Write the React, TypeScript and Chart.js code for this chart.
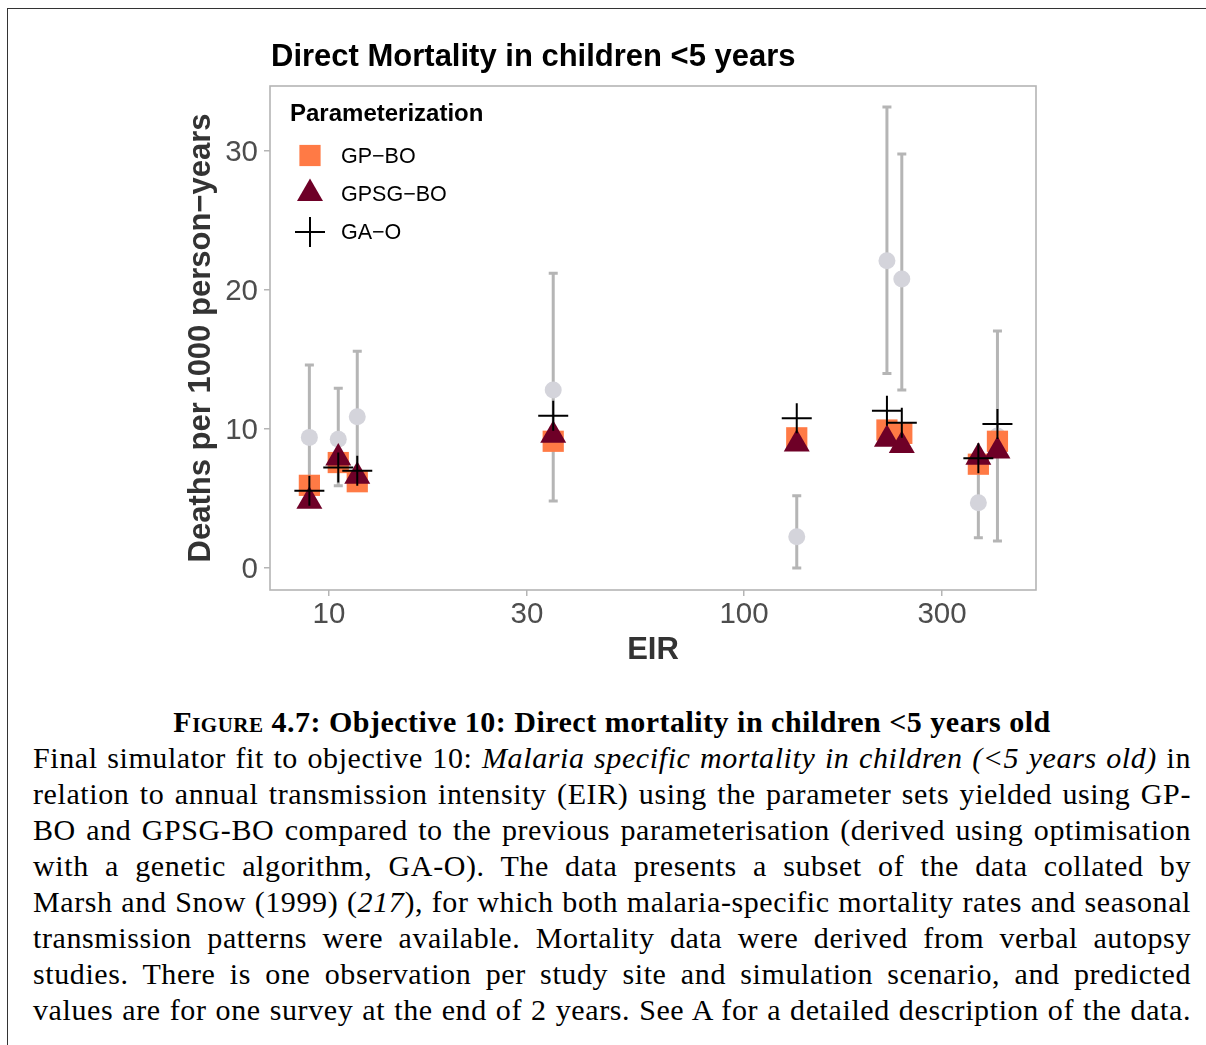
import React, { useEffect, useRef } from 'react';
import { Chart, registerables } from 'chart.js';

Chart.register(...registerables);

// EIR (annual entomological inoculation rate) per study site
const eir = [8.97, 10.53, 11.7, 34.7, 134, 221, 240, 367, 408];
// Observed malaria-specific mortality with interval bounds
const observed = [9.4, 9.26, 10.89, 12.81, 2.25, 22.1, 20.79, 4.7, 9.5];
const observedLower = [4.6, 5.92, 6.4, 4.82, 0.0, 14.0, 12.8, 2.18, 1.94];
const observedUpper = [14.6, 12.93, 15.59, 21.2, 5.2, 33.17, 29.78, 7.3, 17.05];
// Simulated values for each parameterisation
const gpBo = [5.95, 7.59, 6.21, 9.12, 9.37, 9.93, 9.69, 7.47, 9.12];
const gpsgBo = [4.81, 7.91, 6.6, 9.56, 8.93, 9.27, 8.81, 7.97, 8.42];
const gaO = [5.56, 7.24, 7.0, 10.96, 10.77, 11.32, 10.45, 7.89, 10.36];

const xTicks = [10, 30, 100, 300];
const yTicks = [0, 10, 20, 30];

const seriesNames = ['GP\u2212BO', 'GPSG\u2212BO', 'GA\u2212O'];
const COLOR_GP = '#ff7a45';
const COLOR_GPSG = '#6e0027';
const COLOR_GA = '#000000';
const COLOR_OBS = '#d4d4db';
const COLOR_BAR = '#b5b5b5';
const SANS = '"Liberation Sans", Arial, sans-serif';

const toPoints = (ys: number[]) => ys.map((y, i) => ({ x: eir[i], y }));

const errorBars = {
  id: 'errorBars',
  beforeDatasetsDraw(chart: any) {
    const { ctx, scales } = chart;
    const x = scales.x;
    const y = scales.y;
    ctx.save();
    ctx.strokeStyle = COLOR_BAR;
    ctx.lineWidth = 3;
    eir.forEach((e, i) => {
      const px = x.getPixelForValue(e);
      const top = y.getPixelForValue(observedUpper[i]);
      const bot = y.getPixelForValue(observedLower[i]);
      ctx.beginPath();
      ctx.moveTo(px, top);
      ctx.lineTo(px, bot);
      ctx.moveTo(px - 4.5, top);
      ctx.lineTo(px + 4.5, top);
      ctx.moveTo(px - 4.5, bot);
      ctx.lineTo(px + 4.5, bot);
      ctx.stroke();
    });
    ctx.restore();
  },
};

const drawMarker = (ctx: CanvasRenderingContext2D, kind: number, x: number, y: number) => {
  const r = 15;
  ctx.beginPath();
  if (kind === 0) {
    const s = r * Math.SQRT1_2;
    ctx.fillStyle = COLOR_GP;
    ctx.rect(x - s, y - s, 2 * s, 2 * s);
    ctx.fill();
  } else if (kind === 1) {
    ctx.fillStyle = COLOR_GPSG;
    for (let k = 0; k < 3; k++) {
      const a = (k * 2 * Math.PI) / 3;
      const px = x + Math.sin(a) * r;
      const py = y - Math.cos(a) * r;
      if (k === 0) ctx.moveTo(px, py);
      else ctx.lineTo(px, py);
    }
    ctx.closePath();
    ctx.fill();
  } else {
    ctx.strokeStyle = COLOR_GA;
    ctx.lineWidth = 2;
    ctx.moveTo(x - r, y);
    ctx.lineTo(x + r, y);
    ctx.moveTo(x, y - r);
    ctx.lineTo(x, y + r);
    ctx.stroke();
  }
};

const frameAndLabels = {
  id: 'frameAndLabels',
  beforeDatasetsDraw(chart: any) {
    const { ctx, chartArea } = chart;
    ctx.save();
    ctx.strokeStyle = COLOR_BAR;
    ctx.lineWidth = 1.6;
    ctx.strokeRect(chartArea.left, chartArea.top, chartArea.right - chartArea.left, chartArea.bottom - chartArea.top);
    ctx.restore();
  },
  afterDraw(chart: any) {
    const { ctx, chartArea } = chart;
    ctx.save();
    // plot title
    ctx.fillStyle = '#000';
    ctx.textBaseline = 'middle';
    ctx.textAlign = 'left';
    ctx.font = `bold 31px ${SANS}`;
    ctx.fillText('Direct Mortality in children <5 years', chartArea.left + 1, 57);

    // legend
    const lx = chartArea.left + 20;
    ctx.font = `bold 24px ${SANS}`;
    ctx.fillText('Parameterization', lx, chartArea.top + 28);
    const rows = [155.5, 193.5, 232];
    ctx.font = `21.5px ${SANS}`;
    rows.forEach((ry, k) => {
      drawMarker(ctx, k, lx + 20, ry);
      ctx.fillStyle = '#000';
      ctx.fillText(seriesNames[k], lx + 51, ry + 1.5);
    });
    ctx.restore();
  },
};

export default function App() {
  const canvasRef = useRef<HTMLCanvasElement>(null);

  useEffect(() => {
    const canvas = canvasRef.current;
    if (!canvas) return;
    Chart.defaults.font.family = SANS;
    const chart = new Chart(canvas, {
      type: 'scatter',
      data: {
        datasets: [
          {
            label: seriesNames[2],
            data: toPoints(gaO),
            pointStyle: 'cross',
            pointRadius: 15,
            borderColor: COLOR_GA,
            backgroundColor: COLOR_GA,
            borderWidth: 2,
            order: 0,
          },
          {
            label: seriesNames[1],
            data: toPoints(gpsgBo),
            pointStyle: 'triangle',
            pointRadius: 15,
            backgroundColor: COLOR_GPSG,
            borderColor: COLOR_GPSG,
            borderWidth: 0,
            order: 1,
          },
          {
            label: seriesNames[0],
            data: toPoints(gpBo),
            pointStyle: 'rect',
            pointRadius: 15,
            backgroundColor: COLOR_GP,
            borderColor: COLOR_GP,
            borderWidth: 0,
            order: 2,
          },
          {
            label: 'Observed',
            data: toPoints(observed),
            pointStyle: 'circle',
            pointRadius: 8.5,
            backgroundColor: COLOR_OBS,
            borderColor: COLOR_OBS,
            borderWidth: 0,
            order: 3,
          },
        ],
      },
      options: {
        animation: false,
        responsive: false,
        devicePixelRatio: 1,
        layout: { padding: { left: 180, top: 86, right: 170, bottom: 20 } },
        plugins: {
          legend: { display: false },
          title: { display: false },
          tooltip: { enabled: false },
        },
        scales: {
          x: {
            type: 'logarithmic',
            min: 7.21,
            max: 505.3,
            afterBuildTicks: (scale: any) => {
              scale.ticks = xTicks.map((v) => ({ value: v }));
            },
            afterFit: (scale: any) => {
              scale.height = 80;
            },
            border: { display: false },
            grid: {
              drawOnChartArea: false,
              drawTicks: true,
              tickLength: 6,
              color: COLOR_BAR,
              lineWidth: 1.5,
            },
            ticks: {
              autoSkip: false,
              maxRotation: 0,
              padding: 1,
              color: '#4d4d4d',
              font: { size: 29.5, lineHeight: 1.2 },
              callback: (v: any) => String(v),
            },
            title: {
              display: true,
              text: 'EIR',
              color: '#333333',
              font: { size: 31, weight: 'bold', lineHeight: 1 },
              padding: { top: 0, bottom: 4.5 },
            },
          },
          y: {
            type: 'linear',
            min: -1.58,
            max: 34.68,
            afterBuildTicks: (scale: any) => {
              scale.ticks = yTicks.map((v) => ({ value: v }));
            },
            afterFit: (scale: any) => {
              scale.width = 90;
            },
            border: { display: false },
            grid: {
              drawOnChartArea: false,
              drawTicks: true,
              tickLength: 6,
              color: COLOR_BAR,
              lineWidth: 1.5,
            },
            ticks: {
              padding: 6,
              labelOffset: 2,
              color: '#4d4d4d',
              font: { size: 29.5, lineHeight: 1.2 },
              callback: (v: any) => String(v),
            },
            title: {
              display: true,
              text: 'Deaths per 1000 person\u2212years',
              color: '#333333',
              font: { size: 31, weight: 'bold', lineHeight: 1 },
              padding: { top: 6, bottom: 0 },
            },
          },
        },
      },
      plugins: [errorBars, frameAndLabels],
    } as any);
    return () => chart.destroy();
  }, []);

  const serif = '"Liberation Serif", "DejaVu Serif", serif';
  const lineStyle = (top: number): React.CSSProperties => ({
    position: 'absolute',
    left: 33,
    top,
    width: 1158,
    height: 36,
    lineHeight: '36px',
    fontFamily: serif,
    fontSize: 30,
    letterSpacing: '0.6px',
    color: '#000',
    textAlign: 'justify',
    textAlignLast: 'justify',
    whiteSpace: 'nowrap',
  });

  const captionLines: React.ReactNode[] = [
    <>Final simulator fit to objective 10: <i>Malaria specific mortality in children (&lt;5 years old)</i> in</>,
    <>relation to annual transmission intensity (EIR) using the parameter sets yielded using GP-</>,
    <>BO and GPSG-BO compared to the previous parameterisation (derived using optimisation</>,
    <>with a genetic algorithm, GA-O). The data presents a subset of the data collated by</>,
    <>Marsh and Snow (1999) (<i>217</i>), for which both malaria-specific mortality rates and seasonal</>,
    <>transmission patterns were available. Mortality data were derived from verbal autopsy</>,
    <>studies. There is one observation per study site and simulation scenario, and predicted</>,
    <>values are for one survey at the end of 2 years. See A for a detailed description of the data.</>,
  ];

  return (
    <div style={{ position: 'absolute', left: 0, top: 0, width: 1206, height: 1045, overflow: 'hidden', background: '#fff' }}>
      <div
        style={{
          position: 'absolute',
          left: 7,
          top: 8,
          right: -2,
          bottom: -2,
          borderLeft: '1.5px solid #333',
          borderTop: '1.5px solid #333',
        }}
      />
      <canvas ref={canvasRef} width={1206} height={690} style={{ position: 'absolute', left: 0, top: 0, width: 1206, height: 690 }} />
      <div
        style={{
          position: 'absolute',
          left: 33,
          top: 704,
          width: 1158,
          height: 36,
          lineHeight: '36px',
          fontFamily: serif,
          fontSize: 30,
          fontWeight: 'bold',
          letterSpacing: '0.5px',
          textAlign: 'center',
          whiteSpace: 'nowrap',
        }}
      >
        <span style={{ fontVariant: 'small-caps' }}>Figure</span> 4.7: Objective 10: Direct mortality in children &lt;5 years old
      </div>
      {captionLines.map((content, i) => (
        <div key={i} style={lineStyle(740 + i * 36)}>
          {content}
        </div>
      ))}
    </div>
  );
}
